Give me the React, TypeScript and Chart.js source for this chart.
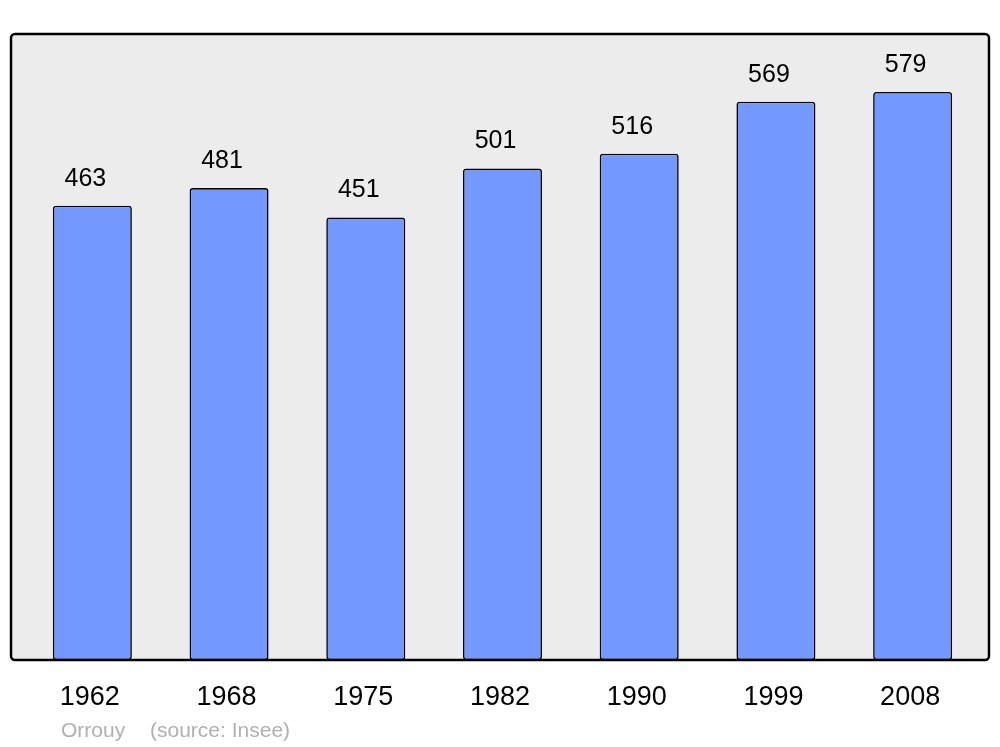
import React, { useEffect, useRef } from "react";
import { Chart, registerables } from "chart.js";

Chart.register(...registerables);

const years = ["1962", "1968", "1975", "1982", "1990", "1999", "2008"];
const population = [463, 481, 451, 501, 516, 569, 579];
const townName = "Orrouy";
const sourceText = "(source: Insee)";

const FONT = "'Liberation Sans', Arial, sans-serif";
const FRAME_EXTRA_LEFT = 13;
const FRAME_EXTRA_RIGHT = 8;

function frameRect(chart: any) {
  const { left, top, right, bottom } = chart.chartArea;
  const l = left - FRAME_EXTRA_LEFT;
  const r = right + FRAME_EXTRA_RIGHT;
  return { l, t: top, w: r - l, h: bottom - top };
}

const framePlugin = {
  id: "frame",
  beforeDatasetsDraw(chart: any) {
    const { ctx } = chart;
    const f = frameRect(chart);
    ctx.save();
    ctx.beginPath();
    (ctx as any).roundRect(f.l, f.t, f.w, f.h, 4);
    ctx.fillStyle = "#ececec";
    ctx.fill();
    ctx.restore();
  },
  afterDatasetsDraw(chart: any) {
    const { ctx } = chart;
    const f = frameRect(chart);
    ctx.save();
    ctx.beginPath();
    (ctx as any).roundRect(f.l, f.t, f.w, f.h, 4);
    ctx.lineWidth = 2.5;
    ctx.strokeStyle = "#000";
    ctx.stroke();
    // value labels
    const meta = chart.getDatasetMeta(0);
    ctx.fillStyle = "#000";
    ctx.font = `25px ${FONT}`;
    ctx.textAlign = "center";
    ctx.textBaseline = "middle";
    meta.data.forEach((bar: any, i: number) => {
      ctx.fillText(String(population[i]), bar.x - 7, bar.y - 27);
    });
    // source
    ctx.fillStyle = "#b0b0b0";
    ctx.font = `21px ${FONT}`;
    ctx.textAlign = "left";
    ctx.fillText(townName, 61, 731);
    ctx.fillText(sourceText, 150, 731);
    ctx.restore();
  },
};

export default function App() {
  const ref = useRef<HTMLCanvasElement>(null);
  useEffect(() => {
    if (!ref.current) return;
    const chart = new Chart(ref.current, {
      type: "bar",
      data: {
        labels: years,
        datasets: [
          {
            data: population,
            backgroundColor: "#7399ff",
            borderColor: "#000",
            borderWidth: 1.6,
            borderRadius: 3,
            borderSkipped: false,
            categoryPercentage: 1,
            barPercentage: 0.578,
          },
        ],
      },
      options: {
        responsive: false,
        animation: false,
        layout: { padding: { left: 24, right: 19, top: 34, bottom: 0 } },
        plugins: { legend: { display: false }, tooltip: { enabled: false } },
        scales: {
          y: { display: false, min: 0, max: 638 },
          x: {
            grid: { display: false, drawTicks: false },
            border: { display: false },
            ticks: {
              color: "#000",
              font: { size: 27, family: FONT },
              padding: 21,
              maxRotation: 0,
              labelOffset: -2.5,
            },
            afterFit(scale: any) {
              scale.height = 87;
            },
          },
        },
      },
      plugins: [framePlugin],
    });
    return () => chart.destroy();
  }, []);
  return (
    <div style={{ position: "absolute", left: 0, top: 0 }}>
      <canvas ref={ref} width={1000} height={747} style={{ display: "block" }} />
    </div>
  );
}
